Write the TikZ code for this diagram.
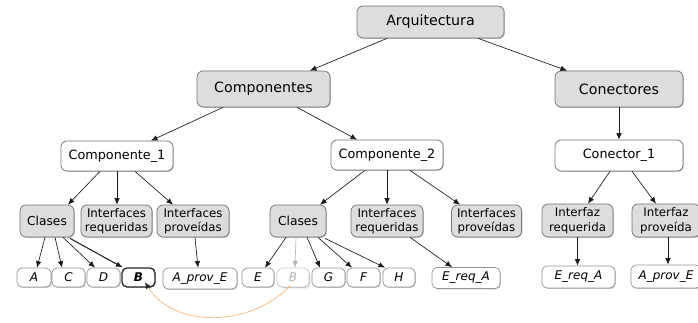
\documentclass[tikz,border=0pt]{standalone}
\usepackage{fontspec}
\setmainfont{DejaVu Sans}
\usetikzlibrary{arrows.meta,calc,shadows}
\definecolor{boxgray}{RGB}{221,221,221}
\definecolor{edgegray}{RGB}{115,115,115}
\definecolor{leafgray}{RGB}{150,150,150}
\definecolor{curveorange}{RGB}{245,160,80}
\tikzset{
  box/.style={draw=edgegray, line width=0.7pt, rounded corners=6pt, inner sep=1pt, align=center, text=black,
    drop shadow={shadow xshift=0.8pt, shadow yshift=-0.8pt, fill=black, opacity=0.25}},
  graybox/.style={box, fill=boxgray},
  whitebox/.style={box, fill=white},
  big/.style={font=\fontsize{14.2}{16}\selectfont},
  mid/.style={font=\fontsize{12.8}{15}\selectfont},
  small/.style={font=\fontsize{11.8}{14.5}\selectfont},
  leaf/.style={whitebox, draw=leafgray, font=\fontsize{12}{14}\selectfont\itshape, minimum height=19pt, rounded corners=5pt},
  arr/.style={draw=black!90, line width=0.65pt, -{Latex[length=6.5pt,width=5.5pt]}},
}
\begin{document}
\begin{tikzpicture}[x=1pt,y=-1pt]
\useasboundingbox (0,0) rectangle (698,323);
% level 0/1
\node[graybox,big,minimum width=147pt,minimum height=32pt] (arq) at (430.5,22) {Arquitectura};
\node[graybox,big,minimum width=133pt,minimum height=36pt] (comps) at (263.5,89) {Componentes};
\node[graybox,big,minimum width=128pt,minimum height=36pt] (conects) at (619,89) {Conectores};
% level 2
\node[whitebox,mid,minimum width=112pt,minimum height=30pt] (comp1) at (117,156) {Componente\_1};
\node[whitebox,mid,minimum width=112pt,minimum height=30pt] (comp2) at (387,155) {Componente\_2};
\node[whitebox,mid,minimum width=128pt,minimum height=31pt] (con1) at (619,155.5) {Conector\_1};
% level 3
\node[graybox,font=\fontsize{12.3}{14}\selectfont,minimum width=54pt,minimum height=32pt] (clases1) at (47,221) {Clases};
\node[graybox,small,minimum width=71pt,minimum height=32pt] (ireq1) at (116.5,221) {Interfaces\\requeridas};
\node[graybox,small,minimum width=72pt,minimum height=32pt] (iprov1) at (193,221) {Interfaces\\proveídas};
\node[graybox,font=\fontsize{12.3}{14}\selectfont,minimum width=56pt,minimum height=32pt] (clases2) at (298,221) {Clases};
\node[graybox,small,minimum width=72pt,minimum height=32pt] (ireq2) at (387,221) {Interfaces\\requeridas};
\node[graybox,small,minimum width=70pt,minimum height=32pt] (iprov2) at (486.5,221) {Interfaces\\proveídas};
\node[graybox,small,minimum width=71pt,minimum height=33pt] (ifreq) at (577.5,220.5) {Interfaz\\requerida};
\node[graybox,small,minimum width=68pt,minimum height=33pt] (ifprov) at (666,220.5) {Interfaz\\proveída};
% leaves
\node[leaf,minimum width=34pt] (la) at (34,277.5) {A};
\node[leaf,minimum width=33pt] (lc) at (68.5,277.5) {C};
\node[leaf,minimum width=33pt] (ld) at (103.5,277.5) {D};
\node[leaf,minimum width=33pt,draw=black!85,line width=1.3pt,font=\fontsize{12}{14}\selectfont\bfseries\itshape] (lb) at (138.5,277.5) {B};
\node[leaf,minimum width=74pt,minimum height=21pt] (aprov1) at (200,278.5) {A\_prov\_E};
\node[leaf,minimum width=32pt] (le) at (258,277.5) {E};
\node[leaf,minimum width=32pt,draw=gray!40,text=gray!60,drop shadow={opacity=0.08}] (lbf) at (293,277.5) {B};
\node[leaf,minimum width=33pt] (lg) at (328.5,277.5) {G};
\node[leaf,minimum width=33pt] (lf) at (363.5,277.5) {F};
\node[leaf,minimum width=32pt] (lh) at (399,277.5) {H};
\node[leaf,minimum width=68pt,minimum height=21pt] (ereq2) at (466,278) {E\_req\_A};
\node[leaf,minimum width=73pt,minimum height=22pt] (ereqc) at (578.5,277) {E\_req\_A};
\node[leaf,minimum width=70pt,minimum height=23pt] (aprovc) at (666,276.5) {A\_prov\_E};
% edges
\draw[arr] ([xshift=-43.5pt]arq.south) -- ([xshift=46.5pt]comps.north);
\draw[arr] ([xshift=47.5pt]arq.south) -- ([xshift=-52pt]conects.north);
\draw[arr] (conects.south) -- (con1.north);
\draw[arr] ([xshift=-40.5pt]comps.south) -- ([xshift=34pt]comp1.north);
\draw[arr] ([xshift=33.5pt]comps.south) -- ([xshift=-30pt]comp2.north);
\draw[arr] ([xshift=-17pt]comp1.south) -- ([xshift=21pt]clases1.north);
\draw[arr] (comp1.south) -- (comp1.south |- ireq1.north);
\draw[arr] ([xshift=18pt]comp1.south) -- ([xshift=-20pt]iprov1.north);
\draw[arr] ([xshift=-2pt]clases1.south) -- ([xshift=3pt]la.north);
\draw[arr] ([xshift=8pt]clases1.south) -- ([xshift=-6.5pt]lc.north);
\draw[arr] ([xshift=16pt]clases1.south) -- ([xshift=-8.5pt]ld.north);
\draw[arr,line width=1pt] ([xshift=23pt,yshift=-1pt]clases1.south) -- ([xshift=-16pt]lb.north);
\draw[arr] ([xshift=2pt]iprov1.south) -- ([xshift=-2pt]aprov1.north);
\draw[arr] ([xshift=-22pt]comp2.south) -- ([xshift=22pt]clases2.north);
\draw[arr] (comp2.south) -- (ireq2.north);
\draw[arr] ([xshift=23pt]comp2.south) -- ([xshift=-26.5pt]iprov2.north);
\draw[arr] ([xshift=-12pt]clases2.south) -- ([xshift=7pt]le.north);
\draw[arr,draw=gray!55] ([xshift=-2pt]clases2.south) -- ([xshift=2pt]lbf.north);
\draw[arr] ([xshift=9pt]clases2.south) -- ([xshift=-8.5pt]lg.north);
\draw[arr] ([xshift=20pt]clases2.south) -- ([xshift=-11.5pt]lf.north);
\draw[arr] ([xshift=27pt,yshift=-1pt]clases2.south) -- ([xshift=-14pt]lh.north);
\draw[arr] ([xshift=23pt]ireq2.south) -- ([xshift=-14pt]ereq2.north);
\draw[arr] ([xshift=-9pt]con1.south) -- ([xshift=10.5pt]ifreq.north);
\draw[arr] ([xshift=13pt]con1.south) -- ([xshift=-10pt]ifprov.north);
\draw[arr] (ifreq.south) -- (ifreq.south |- ereqc.north);
\draw[arr] ([xshift=2pt]ifprov.south) -- ([xshift=2pt]ifprov.south |- aprovc.north);
% dotted orange curve
\draw[draw=curveorange, line width=0.7pt, dash pattern=on 1.2pt off 0.6pt, -{Latex[length=6.5pt,width=5.5pt,color=black!85]}]
  ([xshift=-3pt,yshift=1.5pt]lbf.south) .. controls (250,328) and (173,328) .. ([xshift=6.5pt,yshift=5.5pt]lb.south);
\end{tikzpicture}
\end{document}
